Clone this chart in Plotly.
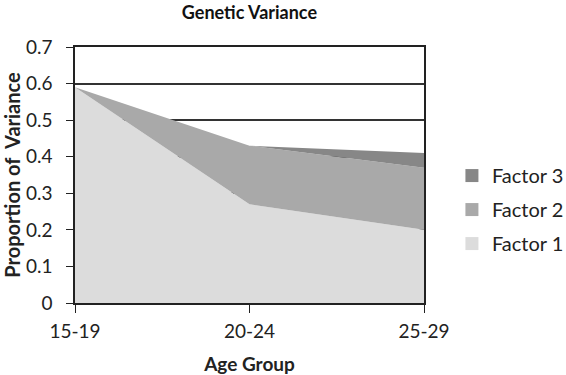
import plotly.graph_objects as go

categories = ["15-19", "20-24", "25-29"]
factor1 = [0.59, 0.27, 0.20]
factor2 = [0.0, 0.16, 0.17]
factor3 = [0.0, 0.0, 0.04]
y_ticks = [0, 0.1, 0.2, 0.3, 0.4, 0.5, 0.6, 0.7]
y_ticktext = ["0", "0.1", "0.2", "0.3", "0.4", "0.5", "0.6", "0.7"]

FONT = "Lato, 'Open Sans', sans-serif"

fig = go.Figure()
series = [("Factor 1", factor1, "#dcdcdc"),
          ("Factor 2", factor2, "#a9a9a9"),
          ("Factor 3", factor3, "#878787")]
for name, vals, col in series:
    fig.add_trace(go.Scatter(
        x=categories, y=vals, name=name, mode="lines",
        stackgroup="one", line=dict(width=0, color=col),
        fillcolor=col, showlegend=False, hoverinfo="x+y+name"))
# legend entries with square swatches (Factor 3 on top)
for rank, (name, vals, col) in enumerate(reversed(series)):
    fig.add_trace(go.Scatter(
        x=[None], y=[None], name=name, mode="markers",
        marker=dict(symbol="square", size=13, color=col),
        legendgroup=name, legendrank=rank + 1, showlegend=True))

fig.update_layout(
    width=566, height=375,
    margin=dict(l=75, r=142, t=47, b=72, autoexpand=False),
    paper_bgcolor="white", plot_bgcolor="white",
    font=dict(family=FONT, size=19, color="#222"),
    title=dict(text="<b>Genetic Variance</b>", x=0.4407, xanchor="center",
               y=0.982, yanchor="top", font=dict(size=18, color="#111")),
    showlegend=True,
    legend=dict(x=1.08, xanchor="left", y=0.365, yanchor="middle",
                traceorder="grouped", font=dict(size=20),
                tracegroupgap=5, itemwidth=30),
    xaxis=dict(type="category", range=[0, 2], showgrid=False,
               showline=True, linecolor="#222", linewidth=1.5, mirror=True,
               ticks="outside", ticklen=8, tickcolor="#222", automargin=False,
               tickfont=dict(size=19), ticklabelstandoff=2,
               title=dict(text="<b>Age Group</b>", font=dict(size=19), standoff=17)),
    yaxis=dict(range=[0, 0.7], tickvals=y_ticks, ticktext=y_ticktext,
               showgrid=True, gridcolor="#333", gridwidth=1.5,
               showline=True, linecolor="#222", linewidth=1.5, mirror=True,
               ticks="outside", ticklen=7, tickcolor="#222", automargin=False,
               tickfont=dict(size=19), zeroline=False, ticklabelstandoff=10,
               title=dict(text="<b>Proportion of  Variance</b>", font=dict(size=20), standoff=4)),
)

fig.write_html("out.html", config={"displayModeBar": False},
               post_script="document.body.style.margin='0';")
